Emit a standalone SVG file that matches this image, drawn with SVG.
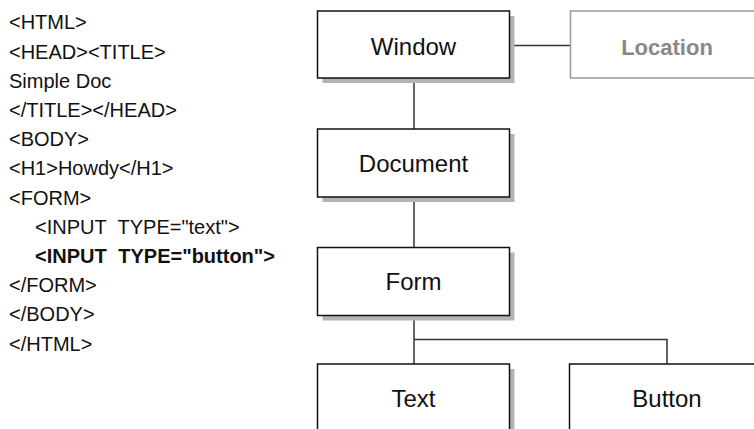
<svg xmlns="http://www.w3.org/2000/svg" width="754" height="429" viewBox="0 0 754 429">
<style>
.code{font-family:"Liberation Sans",Arial,sans-serif;font-size:20px;fill:#111}
.bold{font-weight:bold}
.lbl{font-family:"Liberation Sans",Arial,sans-serif;font-size:24px;fill:#111;text-anchor:middle}
.loc{font-family:"Liberation Sans",Arial,sans-serif;font-size:22px;font-weight:bold;fill:#888;text-anchor:middle}
.box{fill:#fff;stroke:#111;stroke-width:1.5}
.gbox{fill:#fff;stroke:#999;stroke-width:1.5}
.sh{fill:#b3b3b3}
.con{stroke:#333;stroke-width:1.5;fill:none}
</style>
<g id="code">
<text class="code" x="9" y="29.3">&lt;HTML&gt;</text>
<text class="code" x="9" y="58.5">&lt;HEAD&gt;&lt;TITLE&gt;</text>
<text class="code" x="9" y="87.7">Simple Doc</text>
<text class="code" x="9" y="116.9">&lt;/TITLE&gt;&lt;/HEAD&gt;</text>
<text class="code" x="9" y="146.1">&lt;BODY&gt;</text>
<text class="code" x="9" y="175.3">&lt;H1&gt;Howdy&lt;/H1&gt;</text>
<text class="code" x="9" y="204.5">&lt;FORM&gt;</text>
<text class="code" x="35" y="233.7">&lt;INPUT<tspan dx="6"> TYPE="text"&gt;</tspan></text>
<text class="code bold" x="35" y="262.9">&lt;INPUT<tspan dx="6"> TYPE="button"&gt;</tspan></text>
<text class="code" x="9" y="292.1">&lt;/FORM&gt;</text>
<text class="code" x="9" y="321.3">&lt;/BODY&gt;</text>
<text class="code" x="9" y="350.5">&lt;/HTML&gt;</text>
</g>
<g id="connectors">
<line class="con" x1="509" y1="45.5" x2="570" y2="45.5"/>
<line class="con" x1="414" y1="78" x2="414" y2="129"/>
<line class="con" x1="414" y1="196.5" x2="414" y2="247.5"/>
<line class="con" x1="414" y1="315" x2="414" y2="364"/>
<polyline class="con" points="414,339.5 667,339.5 667,364"/>
</g>
<g id="window">
<rect class="sh" x="322.5" y="16" width="192" height="67"/>
<rect class="box" x="317.5" y="11" width="192" height="67"/>
<text class="lbl" x="413.5" y="55">Window</text>
</g>
<g id="location">
<rect class="gbox" x="570.5" y="11" width="193" height="67"/>
<text class="loc" x="667" y="55">Location</text>
</g>
<g id="document">
<rect class="sh" x="322.5" y="134" width="192" height="68"/>
<rect class="box" x="317.5" y="129" width="192" height="68"/>
<text class="lbl" x="413.5" y="171.5">Document</text>
</g>
<g id="form">
<rect class="sh" x="322.5" y="252.5" width="192" height="68"/>
<rect class="box" x="317.5" y="247.5" width="192" height="68"/>
<text class="lbl" x="413.5" y="290">Form</text>
</g>
<g id="text">
<rect class="sh" x="322.5" y="369" width="192" height="68"/>
<rect class="box" x="317.5" y="364" width="192" height="68"/>
<text class="lbl" x="413.5" y="406.5">Text</text>
</g>
<g id="button">
<rect class="sh" x="574.5" y="369" width="193" height="68"/>
<rect class="box" x="569.5" y="364" width="193" height="68"/>
<text class="lbl" x="667" y="406.5">Button</text>
</g>
</svg>
